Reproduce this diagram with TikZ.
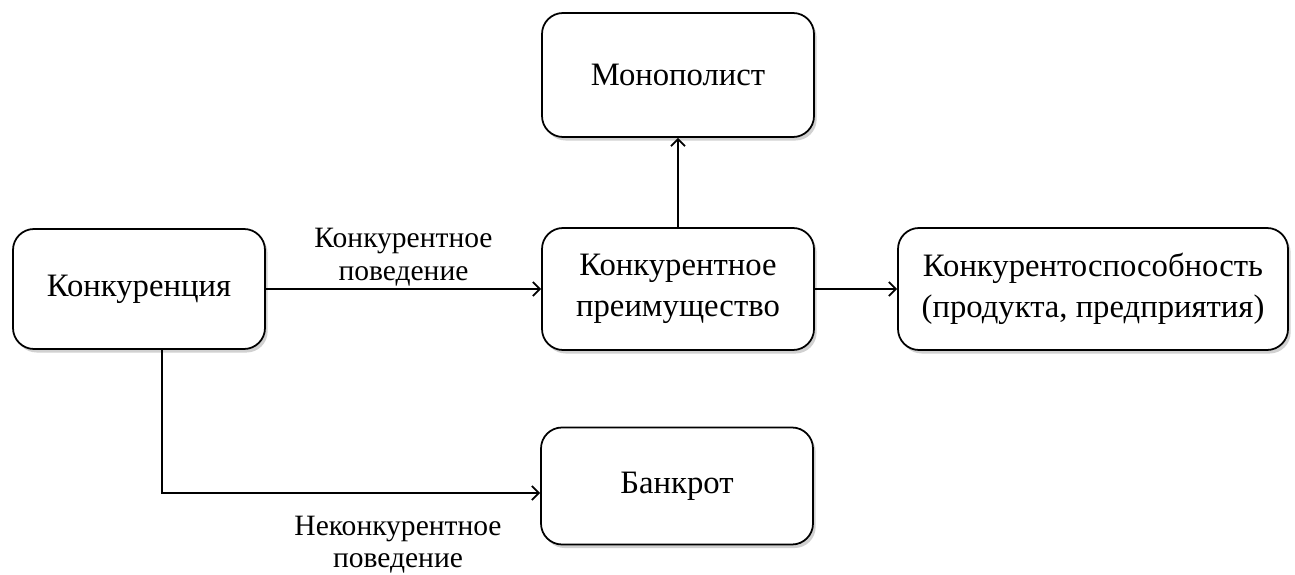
\documentclass[tikz,border=0pt]{standalone}
\usepackage{fontspec}
\setmainfont{Liberation Serif}
\usetikzlibrary{arrows.meta, shadows}

\begin{document}
\begin{tikzpicture}[
      box/.style={draw=black, line width=1pt, rounded corners=0.42cm, fill=white,
                  minimum width=5.44cm, minimum height=2.44cm, align=center,
                  font=\fontsize{18.6}{23.5}\selectfont,
                  drop shadow={shadow xshift=1.5pt, shadow yshift=-2pt,
                               opacity=0.18, fill=black}},
      lbl/.style={align=center, font=\fontsize{16.8}{18.3}\selectfont},
      arr/.style={-{Straight Barb[length=4pt, width=8pt]}, line width=1pt}]

    \useasboundingbox (0,0) rectangle (25.9,-11.5);

    \node[box, minimum width=5.04cm, minimum height=2.4cm] (konk) at (2.78, -5.78) {Конкуренция};
    \node[box, minimum height=2.48cm] (mono) at (13.56, -1.5)  {Монополист};
    \node[box] (preim) at (13.56, -5.78) {Конкурентное\\преимущество};
    \node[box, minimum width=7.8cm] (sposob) at (21.86, -5.78)
      {Конкурентоспособность\\(продукта, предприятия)};
    \node[box, minimum height=2.34cm] (bankr) at (13.54, -9.72) {Банкрот};

    \draw[arr] (konk.east) -- node[lbl, above=-2pt] (povk) {Конкурентное\\поведение} (preim.west);
    \draw[arr] (preim.north) -- (mono.south);
    \draw[arr] (preim.east) -- (sposob.west);

    \coordinate (ugol) at (3.24, -9.86);
    \draw[arr] (konk.south -| ugol) -- (ugol) -- (ugol -| bankr.west);
    \node[lbl] (povn) at (7.96, -10.9) {Неконкурентное\\поведение};
  \end{tikzpicture}
\end{document}
